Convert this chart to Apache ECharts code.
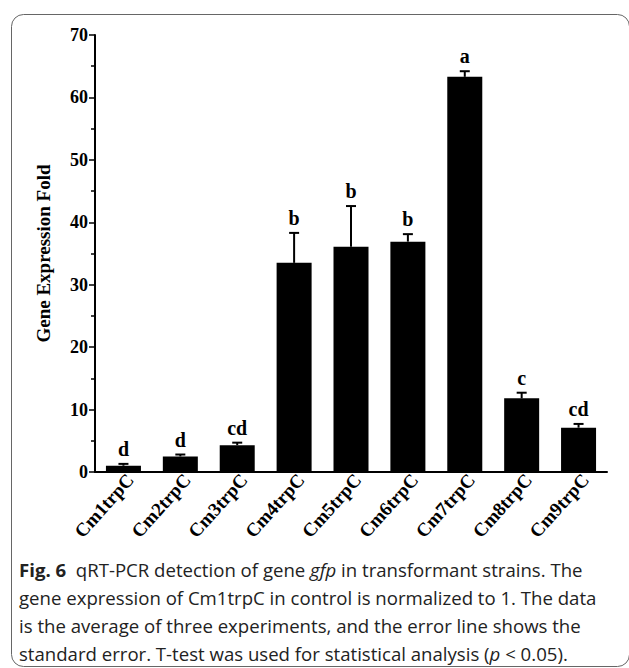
<!DOCTYPE html>
<html>
<head>
<meta charset="utf-8">
<script src="https://cdn.jsdelivr.net/npm/echarts@6/dist/echarts.min.js"></script>
<style>
html,body{margin:0;padding:0;background:#fff;}
#c{width:629px;height:668px;}
</style>
</head>
<body>
<div id="c"></div>
<script>
const categories = ['Cm1trpC','Cm2trpC','Cm3trpC','Cm4trpC','Cm5trpC','Cm6trpC','Cm7trpC','Cm8trpC','Cm9trpC'];
const means = [1.0, 2.5, 4.3, 33.5, 36.1, 36.9, 63.3, 11.8, 7.1];
const errors = [0.3, 0.3, 0.4, 4.8, 6.5, 1.2, 0.9, 0.9, 0.6];
const letters = ['d','d','cd','b','b','b','a','c','cd'];
const yMin = 0, yMax = 70, yStep = 10;
const yAxisName = 'Gene Expression Fold';
const captionLines = [
  [{t:'Fig. 6', s:'b'}, {t:'  qRT-PCR detection of gene ', s:'n'}, {t:'gfp', s:'i'}, {t:' in transformant strains. The', s:'n'}],
  [{t:'gene expression of Cm1trpC in control is normalized to 1. The data', s:'n'}],
  [{t:'is the average of three experiments, and the error line shows the', s:'n'}],
  [{t:'standard error. T-test was used for statistical analysis (', s:'n'}, {t:'p', s:'i'}, {t:' < 0.05).', s:'n'}]
];

const serif = '"Liberation Serif","Times New Roman",serif';
const sans = '"Open Sans","Noto Sans",sans-serif';

const chart = echarts.init(document.getElementById('c'), null, {renderer:'svg'});

const errData = means.map((m, i) => [i, m, errors[i], i]);

const capSize = 18.6;
const captionGraphics = captionLines.map((parts, li) => ({
  type: 'text',
  left: 19,
  top: 560 + li * 28,
  style: {
    text: parts.map(p => '{' + p.s + '|' + p.t + '}').join(''),
    rich: {
      b: {fontFamily: sans, fontSize: capSize, fontWeight: 'bold', fill: '#222'},
      n: {fontFamily: sans, fontSize: capSize, fill: '#222'},
      i: {fontFamily: sans, fontSize: capSize, fontStyle: 'italic', fill: '#222'}
    }
  }
}));

chart.setOption({
  animation: false,
  backgroundColor: '#fff',
  grid: {left: 95, right: 22, top: 35, bottom: 196, containLabel: false},
  xAxis: {
    type: 'category',
    data: categories,
    axisLine: {lineStyle: {color: '#000', width: 2}},
    axisTick: {show: false},
    axisLabel: {
      rotate: 48, margin: 12, color: '#000', padding: [0, -10, 0, 0],
      fontFamily: serif, fontWeight: 'bold', fontSize: 19
    }
  },
  yAxis: {
    type: 'value',
    min: yMin, max: yMax, interval: yStep,
    name: yAxisName,
    nameLocation: 'middle',
    nameGap: 42,
    nameTextStyle: {fontFamily: serif, fontWeight: 'bold', fontSize: 19, color: '#000'},
    axisLine: {show: true, lineStyle: {color: '#000', width: 2}},
    axisTick: {show: true, length: 6, lineStyle: {color: '#000', width: 1.5}},
    minorTick: {show: true, splitNumber: 2, length: 4, lineStyle: {color: '#000', width: 1.5}},
    splitLine: {show: false},
    axisLabel: {margin: 7, color: '#000', fontFamily: serif, fontWeight: 'bold', fontSize: 18}
  },
  series: [
    {
      type: 'bar',
      data: means,
      barWidth: 35,
      itemStyle: {color: '#000'}
    },
    {
      type: 'custom',
      data: errData,
      z: 5,
      renderItem: function (params, api) {
        const i = api.value(0), m = api.value(1), e = api.value(2), li = api.value(3);
        const top = api.coord([i, m + e]);
        const base = api.coord([i, m]);
        return {
          type: 'group',
          children: [
            {type: 'line', shape: {x1: base[0], y1: base[1], x2: top[0], y2: top[1]}, style: {stroke: '#000', lineWidth: 2}},
            {type: 'line', shape: {x1: top[0] - 5, y1: top[1], x2: top[0] + 5, y2: top[1]}, style: {stroke: '#000', lineWidth: 2}},
            {type: 'text', x: top[0], y: top[1] - 5, style: {
              text: letters[li], align: 'center', verticalAlign: 'bottom',
              fontFamily: serif, fontWeight: 'bold', fontSize: 20, fill: '#000'
            }}
          ]
        };
      }
    }
  ],
  graphic: [
    {type: 'rect', left: 9, top: 12, shape: {width: 618, height: 652, r: 12}, style: {fill: 'none', stroke: '#666', lineWidth: 1}, z: -1}
  ].concat(captionGraphics)
});
</script>
</body>
</html>
